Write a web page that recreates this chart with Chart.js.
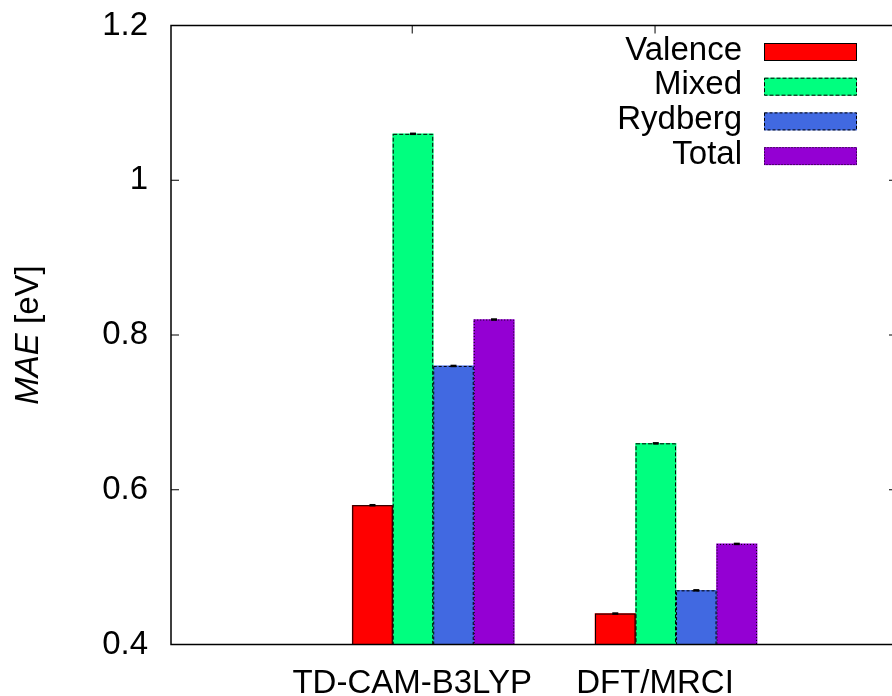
<!DOCTYPE html>
<html lang="en">
<head>
<meta charset="UTF-8">
<title>MAE [eV]</title>
<script src="https://cdn.jsdelivr.net/npm/chart.js"></script>
<style>
    html, body { margin: 0; padding: 0; background: #fff; overflow: hidden; }
    #wrap { width: 900px; height: 696px; }
</style>
</head>
<body>
<div id="wrap"><canvas id="maeChart"></canvas></div>
<script>
// data
var methods = ['TD-CAM-B3LYP', 'DFT/MRCI'];
var valence = [0.58, 0.44];
var mixed   = [1.06, 0.66];
var rydberg = [0.76, 0.47];
var total   = [0.82, 0.53];
var yTicks  = [0.4, 0.6, 0.8, 1, 1.2];

var FONT = '"Liberation Sans", Arial, Helvetica, sans-serif';
var colors = ['#ff0000', '#00ff7f', '#4169e1', '#9400d3'];
var dashes = [[], [4, 2], [3, 2], [1, 2]];
var labelShift = -21;

function points(arr) {
    return arr.map(function(v, i) { return { x: i + 1, y: v }; });
}

function outline(ctx, x, y, w, h, di) {
    ctx.save();
    ctx.strokeStyle = '#000';
    ctx.lineWidth = 1;
    ctx.setLineDash(dashes[di]);
    ctx.strokeRect(x + 0.5, y + 0.5, w - 1, h - 1);
    ctx.restore();
}

var framePlugin = {
    id: 'frame',
    beforeDatasetsDraw: function(chart) {
        // bottom x tics, hidden behind the bars like in gnuplot
        var ctx = chart.ctx, a = chart.chartArea, xs = chart.scales.x;
        ctx.save();
        ctx.strokeStyle = '#000';
        ctx.lineWidth = 1;
        ctx.beginPath();
        xs.ticks.forEach(function(t) {
            var x = xs.getPixelForValue(t.value) + labelShift;
            ctx.moveTo(x, a.bottom);
            ctx.lineTo(x, a.bottom - 8);
        });
        ctx.stroke();
        ctx.restore();
    },
    afterDatasetsDraw: function(chart) {
        var ctx = chart.ctx, a = chart.chartArea;
        var ys = chart.scales.y, xs = chart.scales.x;

        // bar outlines and tiny error bars (bars start at 0, so clip)
        ctx.save();
        ctx.beginPath();
        ctx.rect(a.left, a.top, a.right - a.left, a.bottom - a.top);
        ctx.clip();
        chart.data.datasets.forEach(function(ds, di) {
            chart.getDatasetMeta(di).data.forEach(function(bar) {
                var p = bar.getProps(['x', 'y', 'base', 'width'], true);
                outline(ctx, p.x - p.width / 2, p.y, p.width, p.base - p.y, di);
                ctx.fillStyle = '#000';
                ctx.fillRect(p.x - 3, p.y - 1.25, 6, 2.5);
            });
        });
        ctx.restore();

        // border and tics
        ctx.save();
        ctx.strokeStyle = '#000';
        ctx.lineWidth = 1.5;
        ctx.strokeRect(a.left, a.top, a.right - a.left, a.bottom - a.top);
        ctx.lineWidth = 1;
        ctx.beginPath();
        ys.ticks.forEach(function(t) {
            var y = ys.getPixelForValue(t.value);
            ctx.moveTo(a.left, y);
            ctx.lineTo(a.left + 8, y);
            ctx.moveTo(a.right, y);
            ctx.lineTo(a.right - 8, y);
        });
        xs.ticks.forEach(function(t) {
            var x = xs.getPixelForValue(t.value) + labelShift;
            ctx.moveTo(x, a.top);
            ctx.lineTo(x, a.top + 8);
        });
        ctx.stroke();
        ctx.restore();
    },
    afterDraw: function(chart) {
        var ctx = chart.ctx, a = chart.chartArea;

        // y axis title: italic MAE + [eV]
        ctx.save();
        ctx.translate(29, (a.top + a.bottom) / 2);
        ctx.rotate(-Math.PI / 2);
        ctx.fillStyle = '#000';
        ctx.textBaseline = 'middle';
        ctx.font = 'italic 33px ' + FONT;
        var w1 = ctx.measureText('MAE').width;
        ctx.font = '33px ' + FONT;
        var w2 = ctx.measureText(' [eV]').width;
        var x0 = -(w1 + w2) / 2;
        ctx.font = 'italic 33px ' + FONT;
        ctx.fillText('MAE', x0, 0);
        ctx.font = '33px ' + FONT;
        ctx.fillText(' [eV]', x0 + w1, 0);
        ctx.restore();

        // key, top right: text then swatch
        ctx.save();
        ctx.font = '33px ' + FONT;
        ctx.textAlign = 'right';
        ctx.textBaseline = 'middle';
        chart.data.datasets.forEach(function(ds, i) {
            var cy = 52 + i * 34.7;
            ctx.fillStyle = '#000';
            ctx.fillText(ds.label, 742, cy - 1.5);
            ctx.fillStyle = ds.backgroundColor;
            ctx.fillRect(764, cy - 9, 93, 18);
            outline(ctx, 764, cy - 9, 93, 18, i);
        });
        ctx.restore();
    }
};

new Chart(document.getElementById('maeChart'), {
    type: 'bar',
    data: {
        datasets: [
            { label: 'Valence', data: points(valence), backgroundColor: colors[0] },
            { label: 'Mixed',   data: points(mixed),   backgroundColor: colors[1] },
            { label: 'Rydberg', data: points(rydberg), backgroundColor: colors[2] },
            { label: 'Total',   data: points(total),   backgroundColor: colors[3] }
        ]
    },
    options: {
        responsive: true,
        maintainAspectRatio: false,
        animation: false,
        borderWidth: 0,
        barThickness: 40.5,
        layout: { padding: { top: 25.5, right: 3, left: 0, bottom: 0 } },
        plugins: {
            legend: { display: false },
            tooltip: { enabled: false }
        },
        scales: {
            x: {
                type: 'linear',
                offset: false,
                min: -0.08,
                max: 2.91,
                grid: { display: false, drawTicks: false, offset: false },
                border: { display: false },
                afterBuildTicks: function(scale) {
                    scale.ticks = methods.map(function(m, i) { return { value: i + 1 }; });
                },
                afterFit: function(scale) {
                    scale.height = 51.5;
                    scale.paddingLeft = 0;
                    scale.paddingRight = 0;
                },
                ticks: {
                    autoSkip: false,
                    maxRotation: 0,
                    padding: 20,
                    labelOffset: labelShift,
                    color: '#000',
                    font: { family: FONT, size: 33 },
                    callback: function(v) { return methods[v - 1] || ''; }
                }
            },
            y: {
                min: 0.4,
                max: 1.2,
                grid: { display: false, drawTicks: false },
                border: { display: false },
                afterBuildTicks: function(scale) {
                    scale.ticks = yTicks.map(function(v) { return { value: v }; });
                },
                afterFit: function(scale) {
                    scale.width = 171;
                    scale.paddingTop = 0;
                    scale.paddingBottom = 0;
                },
                ticks: {
                    padding: 23,
                    color: '#000',
                    font: { family: FONT, size: 33 },
                    callback: function(v) { return String(v); }
                }
            }
        }
    },
    plugins: [framePlugin]
});
</script>
</body>
</html>
